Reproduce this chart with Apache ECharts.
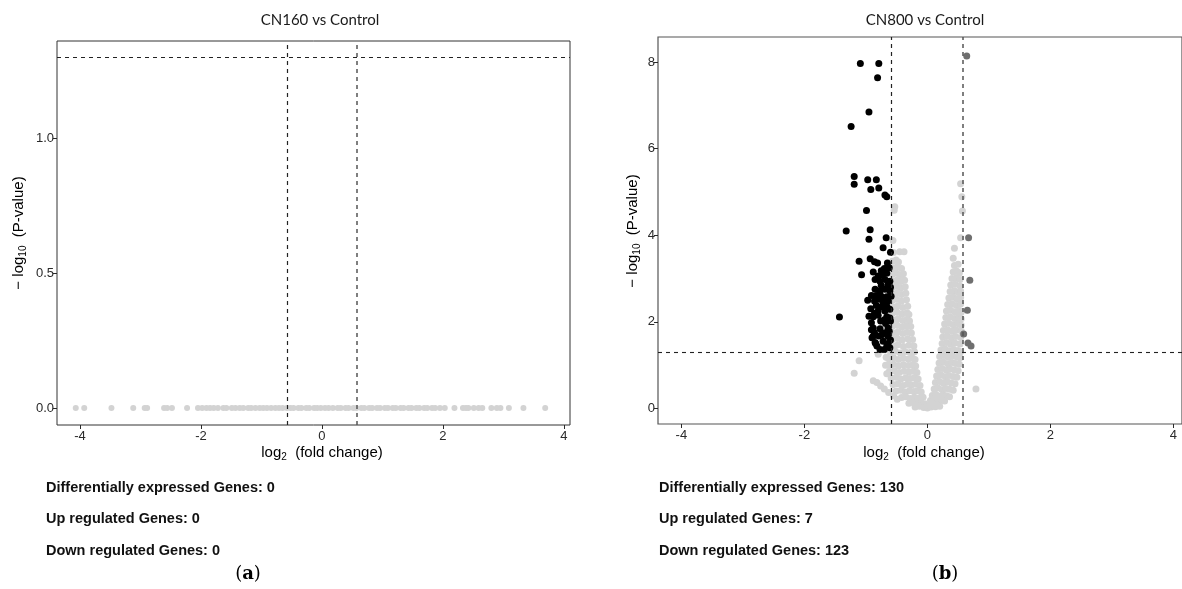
<!DOCTYPE html>
<html><head><meta charset="utf-8">
<script src="https://cdn.jsdelivr.net/npm/echarts@6/dist/echarts.min.js"></script>
<style>html,body{margin:0;padding:0;background:#fff}#c{width:1182px;height:589px}</style>
</head><body><div id="c"></div>
<script>
// ---------- data ----------
const titles = ['CN160 vs Control', 'CN800 vs Control'];
const xTicks = [-4, -2, 0, 2, 4];
const yTicksA = [0, 0.5, 1.0];
const yTicksB = [0, 2, 4, 6, 8];
const fcCut = 0.585;   // log2(1.5)
const pCut = 1.301;    // -log10(0.05)

// CN160: every gene sits at -log10(p) = 0 ; log2 fold changes
const cn160X = [-4.07,-3.93,-3.48,-3.12,-2.93,-2.89,-2.61,-2.56,-2.48,-2.23,-2.05,-1.98,-1.91,-1.85,-1.79,-1.72,
  -1.63,-1.58,-1.49,-1.43,-1.36,-1.30,-1.22,-1.17,-1.10,-1.03,-0.97,-0.91,-0.84,-0.77,-0.71,-0.65,-0.58,-0.52,-0.47,
  -0.39,-0.34,-0.26,-0.21,-0.13,-0.08,-0.02,0.05,0.11,0.18,0.26,0.31,0.39,0.44,0.52,0.57,0.65,0.70,0.78,0.83,0.91,
  0.96,1.04,1.09,1.17,1.22,1.30,1.35,1.43,1.48,1.56,1.61,1.69,1.74,1.82,1.87,1.95,2.03,
  2.19,2.33,2.38,2.42,2.51,2.59,2.65,2.80,2.89,2.95,3.09,3.33,3.69];

// CN800: [log2FC, -log10 p]
const cn800Down = [[-1.09,7.97],[-0.79,7.97],[-0.81,7.64],[-0.95,6.85],[-1.24,6.51],
  [-1.19,5.36],[-1.19,5.18],[-0.97,5.28],[-0.83,5.28],[-0.92,5.06],[-0.79,5.09],[-0.69,4.93],[-0.66,4.89],
  [-0.99,4.57],[-1.32,4.10],[-0.93,4.13],[-0.95,3.91],[-0.67,3.94],[-0.72,3.71],[-0.60,3.61],
  [-1.11,3.40],[-0.93,3.46],[-0.86,3.39],[-0.81,3.36],[-0.65,3.36],
  [-1.07,3.09],[-0.88,3.15],[-0.75,3.18],[-0.70,3.23],[-0.80,3.06],[-0.73,3.09],[-0.66,3.12],[-0.62,3.25],
  [-0.85,2.98],[-0.77,2.94],[-0.69,2.98],[-0.61,2.94],[-0.64,2.86],[-0.75,2.84],[-0.60,2.80],
  [-0.85,2.75],[-0.77,2.71],[-0.69,2.75],[-0.61,2.71],[-0.91,2.61],[-0.83,2.61],[-0.75,2.59],[-0.66,2.58],[-0.59,2.59],
  [-0.97,2.50],[-0.86,2.48],[-0.79,2.52],[-0.72,2.46],[-0.64,2.48],[-0.83,2.38],[-0.75,2.35],[-0.66,2.36],
  [-0.61,2.29],[-0.80,2.25],[-0.69,2.25],[-0.92,2.30],[-0.86,2.20],
  [-1.43,2.11],
  [-0.95,2.13],[-0.88,2.12],[-0.80,2.15],[-0.66,2.12],[-0.61,2.09],[-0.91,1.98],[-0.76,2.02],[-0.68,1.96],
  [-0.60,2.02],[-0.70,2.05],
  [-0.88,1.86],[-0.77,1.84],[-0.64,1.86],[-0.86,1.75],[-0.69,1.75],[-0.79,1.67],[-0.64,1.66],[-0.90,1.63],
  [-0.91,1.82],[-0.62,1.78],[-0.74,1.70],[-0.88,1.67],
  [-0.72,1.55],[-0.84,1.50],[-0.64,1.50],[-0.60,1.58],[-0.85,1.52],
  [-0.77,1.36],[-0.70,1.36],[-0.61,1.40],[-0.66,1.44],[-0.82,1.44]];

const cn800Up = [[0.64,8.14],[0.67,3.94],[0.69,2.96],[0.65,2.27],[0.59,1.72],[0.66,1.51],[0.71,1.44]];

const cn800NS = [
  [-0.53,4.66],[-0.54,4.58],[-0.56,3.88],[-0.45,3.62],[-0.38,3.62],[-0.55,3.60],
  [-0.57,3.40],[-0.51,3.43],[-0.47,3.38],
  [-0.56,3.25],[-0.49,3.27],[-0.42,3.23],
  [-0.57,3.10],[-0.50,3.12],[-0.44,3.08],[-0.39,3.11],
  [-0.56,2.95],[-0.49,2.97],[-0.43,2.93],[-0.37,2.96],
  [-0.57,2.80],[-0.50,2.82],[-0.43,2.78],[-0.36,2.81],
  [-0.56,2.65],[-0.49,2.67],[-0.42,2.63],[-0.35,2.66],
  [-0.57,2.50],[-0.50,2.52],[-0.42,2.48],[-0.34,2.51],
  [-0.56,2.35],[-0.48,2.37],[-0.40,2.33],[-0.32,2.36],
  [-0.57,2.20],[-0.49,2.22],[-0.41,2.18],[-0.33,2.21],[-0.30,2.17],
  [-0.56,2.05],[-0.48,2.07],[-0.40,2.03],[-0.33,2.06],[-0.29,2.02],
  [-0.57,1.90],[-0.49,1.92],[-0.41,1.88],[-0.34,1.91],[-0.27,1.89],
  [-0.56,1.75],[-0.48,1.77],[-0.40,1.73],[-0.33,1.76],[-0.26,1.74],
  [-0.57,1.60],[-0.49,1.62],[-0.41,1.58],[-0.32,1.61],[-0.24,1.59],
  [-0.56,1.45],[-0.48,1.47],[-0.39,1.43],[-0.30,1.46],[-0.22,1.44],
  [-0.60,1.30],[-0.52,1.32],[-0.44,1.28],[-0.36,1.31],[-0.28,1.29],[-0.21,1.31],
  [-0.63,1.15],[-0.55,1.17],[-0.47,1.13],[-0.39,1.16],[-0.31,1.14],[-0.24,1.16],[-0.20,1.13],
  [-0.63,1.00],[-0.55,1.02],[-0.47,0.98],[-0.39,1.01],[-0.31,0.99],[-0.24,1.01],[-0.19,0.98],
  [-0.62,0.85],[-0.54,0.87],[-0.46,0.83],[-0.38,0.86],[-0.30,0.84],[-0.23,0.86],[-0.17,0.83],
  [-0.59,0.70],[-0.51,0.72],[-0.43,0.68],[-0.35,0.71],[-0.28,0.69],[-0.21,0.71],[-0.15,0.68],
  [-0.56,0.55],[-0.48,0.57],[-0.40,0.53],[-0.33,0.56],[-0.26,0.54],[-0.19,0.56],[-0.12,0.53],
  [-0.51,0.40],[-0.43,0.42],[-0.36,0.38],[-0.29,0.41],[-0.22,0.39],[-0.16,0.41],[-0.10,0.38],
  [-0.42,0.25],[-0.35,0.27],[-0.28,0.23],[-0.21,0.26],[-0.14,0.24],[-0.07,0.26],
  [-0.30,0.12],[-0.23,0.14],[-0.16,0.11],[-0.10,0.13],[-0.04,0.11],
  [-0.20,0.03],[-0.13,0.05],[-0.06,0.02],[0.00,0.01],[0.06,0.03],[0.13,0.04],[0.20,0.05],
  [-1.11,1.10],[-1.19,0.81],[-0.80,1.25],[-0.88,0.64],[-0.82,0.60],[-0.76,0.52],[-0.70,0.45],
  [-0.63,0.37],[-0.55,0.29],[-0.49,0.21],[-0.67,1.18],[-0.68,1.00],[-0.66,0.80],
  [0.54,5.19],[0.56,4.89],[0.57,4.56],[0.54,3.94],[0.44,3.70],[0.42,3.47],
  [0.44,3.30],[0.50,3.33],
  [0.42,3.15],[0.48,3.17],[0.52,3.13],
  [0.40,3.00],[0.47,3.02],[0.53,2.98],
  [0.38,2.85],[0.45,2.87],[0.53,2.83],
  [0.37,2.70],[0.44,2.72],[0.50,2.68],[0.54,2.71],
  [0.35,2.55],[0.42,2.57],[0.48,2.53],[0.54,2.56],
  [0.33,2.40],[0.40,2.42],[0.47,2.38],[0.54,2.41],
  [0.31,2.25],[0.38,2.27],[0.45,2.23],[0.52,2.26],[0.55,2.22],
  [0.30,2.10],[0.37,2.12],[0.44,2.08],[0.51,2.11],[0.55,2.07],
  [0.28,1.95],[0.35,1.97],[0.42,1.93],[0.49,1.96],[0.55,1.92],
  [0.26,1.80],[0.33,1.82],[0.40,1.78],[0.47,1.81],[0.55,1.79],
  [0.25,1.65],[0.32,1.67],[0.39,1.63],[0.46,1.66],[0.54,1.64],
  [0.24,1.50],[0.31,1.52],[0.38,1.48],[0.45,1.51],[0.53,1.49],
  [0.22,1.35],[0.29,1.37],[0.36,1.33],[0.43,1.36],[0.50,1.34],[0.54,1.31],
  [0.20,1.20],[0.27,1.22],[0.34,1.18],[0.41,1.21],[0.48,1.19],[0.53,1.17],
  [0.19,1.05],[0.26,1.07],[0.33,1.03],[0.40,1.06],[0.46,1.04],[0.52,1.02],
  [0.17,0.90],[0.24,0.92],[0.31,0.88],[0.37,0.91],[0.44,0.89],[0.50,0.87],
  [0.15,0.75],[0.22,0.77],[0.29,0.73],[0.35,0.76],[0.42,0.74],[0.48,0.72],
  [0.13,0.60],[0.20,0.62],[0.26,0.58],[0.33,0.61],[0.39,0.59],[0.45,0.57],
  [0.11,0.45],[0.17,0.47],[0.24,0.43],[0.30,0.46],[0.36,0.44],[0.42,0.42],
  [0.08,0.30],[0.14,0.32],[0.20,0.28],[0.26,0.31],[0.31,0.29],[0.36,0.27],
  [0.05,0.18],[0.11,0.20],[0.17,0.16],[0.23,0.19],[0.28,0.17],
  [0.03,0.08],[0.09,0.10],[0.15,0.07],
  [0.79,0.45]];

const statsA = ['Differentially expressed Genes: 0', 'Up regulated Genes: 0', 'Down regulated Genes: 0'];
const statsB = ['Differentially expressed Genes: 130', 'Up regulated Genes: 7', 'Down regulated Genes: 123'];
const panelTags = ['a', 'b'];

// ---------- chart ----------
const chart = echarts.init(document.getElementById('c'), null, {renderer: 'canvas'});
const FONT = "'Liberation Sans', Arial, sans-serif";
const tickColor = '#2a2a2a';

function xAxisCfg(gi, min, max) {
  return {
    type: 'value', gridIndex: gi, min, max, position: 'bottom',
    axisLine: {show: false, onZero: false}, splitLine: {show: false},
    axisTick: {show: true, length: 4, lineStyle: {color: tickColor}, customValues: xTicks},
    axisLabel: {show: true, customValues: xTicks, color: tickColor, fontFamily: FONT, fontSize: 13, margin: 5,
      formatter: v => String(v)}
  };
}
function yAxisCfg(gi, min, max, ticks, dec) {
  return {
    type: 'value', gridIndex: gi, min, max, position: 'left',
    axisLine: {show: false, onZero: false}, splitLine: {show: false},
    axisTick: {show: true, length: 4, lineStyle: {color: tickColor}, customValues: ticks},
    axisLabel: {show: true, customValues: ticks, color: tickColor, fontFamily: FONT, fontSize: 13, margin: 3,
      formatter: v => v.toFixed(dec)}
  };
}
function markLines() {
  return {
    silent: true, symbol: ['none', 'none'], label: {show: false}, animation: false,
    lineStyle: {type: [4, 4], color: '#222', width: 1.1},
    data: [
      {xAxis: -fcCut, lineStyle: {color: '#222', width: 1.2, type: [4, 4]}},
      {xAxis: fcCut, lineStyle: {color: '#555', width: 1.5, type: [4, 4]}},
      {yAxis: pCut, lineStyle: {color: '#222', width: 1.1, type: [4, 4]}}
    ]
  };
}

const richAxis = {
  n: {fontFamily: FONT, fontSize: 15, color: '#1a1a1a', lineHeight: 18},
  s: {fontFamily: FONT, fontSize: 10, color: '#1a1a1a', verticalAlign: 'bottom', lineHeight: 14}
};

const graphics = [];
function addText(x, y, text, extra) {
  graphics.push({type: 'text', x, y, silent: true, style: Object.assign({text}, extra)});
}
// titles
addText(320, 20, titles[0], {font: "15px Lato, 'Open Sans', sans-serif", fill: '#1a1a1a', align: 'center', verticalAlign: 'middle'});
addText(925, 20, titles[1], {font: "15px Lato, 'Open Sans', sans-serif", fill: '#1a1a1a', align: 'center', verticalAlign: 'middle'});
// x axis titles
[[322, 453], [924, 453]].forEach(p => {
  graphics.push({type: 'text', x: p[0], y: p[1], silent: true,
    style: {text: '{n|log}{s|2}{n|  (fold change)}', rich: richAxis, align: 'center', verticalAlign: 'middle'}});
});
// y axis titles
[[19, 233], [633, 231]].forEach(p => {
  graphics.push({type: 'text', x: p[0], y: p[1], rotation: Math.PI / 2, silent: true,
    style: {text: '{n|\u2212 log}{s|10}{n|  (P-value)}', rich: richAxis, align: 'center', verticalAlign: 'middle'}});
});
// stats
const statY = [488, 519, 551];
statsA.forEach((t, i) => addText(46, statY[i], t, {font: "bold 14.5px " + FONT, fill: '#111', align: 'left', verticalAlign: 'middle'}));
statsB.forEach((t, i) => addText(659, statY[i], t, {font: "bold 14.5px " + FONT, fill: '#111', align: 'left', verticalAlign: 'middle'}));
// panel tags
[[248, panelTags[0]], [945, panelTags[1]]].forEach(p => {
  graphics.push({type: 'text', x: p[0], y: 574, silent: true,
    style: {text: '{p|(}{q|' + p[1] + '}{p|)}', align: 'center', verticalAlign: 'middle',
      rich: {p: {fontFamily: "'DejaVu Serif', 'Liberation Serif', serif", fontSize: 18, color: '#111'},
             q: {fontFamily: "'DejaVu Serif', 'Liberation Serif', serif", fontSize: 18, fontWeight: 'bold', color: '#111'}}}});
});

const option = {
  animation: false,
  backgroundColor: '#fff',
  grid: [
    {left: 57, top: 41, width: 513, height: 384, show: true, borderColor: '#333', borderWidth: 1, backgroundColor: 'transparent'},
    {left: 658, top: 37, width: 528, height: 387, show: true, borderColor: '#555', borderWidth: 1.2, backgroundColor: 'transparent'}
  ],
  xAxis: [xAxisCfg(0, -4.38, 4.10), xAxisCfg(1, -4.38, 4.14)],
  yAxis: [yAxisCfg(0, -0.063, 1.359, yTicksA, 1), yAxisCfg(1, -0.36, 8.58, yTicksB, 0)],
  series: [
    {type: 'scatter', xAxisIndex: 0, yAxisIndex: 0, symbolSize: 6, itemStyle: {color: '#d3d3d3', opacity: 1},
      data: cn160X.map(x => [x, 0]), markLine: markLines()},
    {type: 'scatter', xAxisIndex: 1, yAxisIndex: 1, symbolSize: 7, itemStyle: {color: '#d3d3d3', opacity: 1},
      data: cn800NS, markLine: markLines()},
    {type: 'scatter', xAxisIndex: 1, yAxisIndex: 1, symbolSize: 7, itemStyle: {color: '#6f6f6f', opacity: 1}, data: cn800Up},
    {type: 'scatter', xAxisIndex: 1, yAxisIndex: 1, symbolSize: 7, itemStyle: {color: '#000', opacity: 1}, data: cn800Down}
  ],
  graphic: graphics
};
chart.setOption(option);
</script></body></html>
